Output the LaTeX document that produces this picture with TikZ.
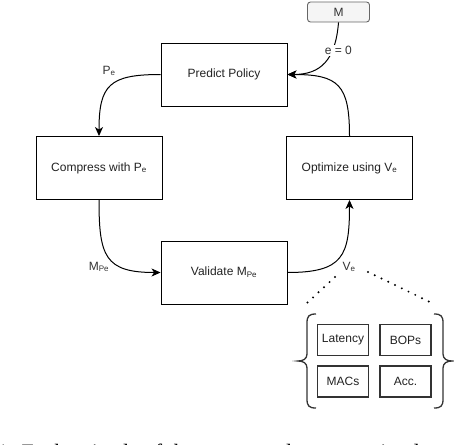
\documentclass[tikz,border=0pt]{standalone}
\usepackage{fontspec}
\setmainfont{Liberation Sans}
\newfontfamily\capfont{Liberation Serif}
\usetikzlibrary{arrows.meta}
\definecolor{txt}{HTML}{222222}
\definecolor{mfill}{HTML}{F5F5F5}
\definecolor{mdraw}{HTML}{666666}
\definecolor{dgray}{HTML}{333333}
\begin{document}
\begin{tikzpicture}[x=1pt,y=-1pt,
  every node/.style={font=\fontsize{12}{14}\selectfont, text=txt},
  stepbox/.style={draw=black, line width=0.9pt, minimum width=126pt, minimum height=63pt, inner sep=0pt},
  metric/.style={draw=dgray, line width=1.4pt, minimum width=51pt, minimum height=31pt, inner sep=0pt},
  inbox/.style={draw=mdraw, fill=mfill, rounded corners=3pt, line width=0.9pt, minimum width=62pt, minimum height=20pt, inner sep=0pt, text=dgray},
  conn/.style={line width=1pt, draw=black, -{Stealth[length=9pt,width=8pt,inset=2.5pt]}},
  lbl/.style={inner sep=1pt, text=dgray},
  dotline/.style={line width=2.2pt, line cap=round, dash pattern=on 0pt off 7.5pt, draw=black},
  bracel/.style={line width=1.3pt, draw=dgray}]
\useasboundingbox (0,0) rectangle (454,444);
\clip (0,0) rectangle (454,444);

% main loop boxes
\node[stepbox] (pp) at (224,74.5) {Predict Policy};
\node[stepbox] (cw) at (99,168) {Compress with P\textsubscript{e}};
\node[stepbox] (ou) at (349.5,168) {Optimize using V\textsubscript{e}};
\node[stepbox] (vm) at (224,272.5) {Validate M\textsubscript{Pe}};

% input model
\node[inbox] (m) at (338.5,12) {M};

% connectors
\draw[conn] (m.south) .. controls +(-3,38) and +(33,0) .. (pp.east)
  node[pos=0.3, xshift=6pt, fill=white, lbl] (e0) {e = 0};
\draw[conn] (pp.west) to[out=180, in=90, looseness=1.5] (cw.north);
\draw[conn] (cw.south) to[out=-90, in=180, looseness=1.5] (vm.west);
\draw[conn] (vm.east) to[out=0, in=-90, looseness=1.5] (ou.south);
\draw[conn] (ou.north) to[out=90, in=0, looseness=1.5] (pp.east);

% edge labels
\node[lbl] (lpe) at (109,71) {P\textsubscript{e}};
\node[lbl] (lmpe) at (99,267) {M\textsubscript{Pe}};
\node[lbl] (lve) at (349,267) {V\textsubscript{e}};

% metric boxes
\node[metric] (lat) at (343,340) {Latency};
\node[metric] (bop) at (405.5,340) {BOPs};
\node[metric] (mac) at (343,381.5) {MACs};
\node[metric] (acc) at (405.5,381.5) {Acc.};

% dotted lines
\coordinate (dl1) at (335,277);
\coordinate (dl2) at (307,303);
\coordinate (dr1) at (368,272);
\coordinate (dr2) at (432,303);
\draw[dotline] (dl1) -- (dl2);
\draw[dotline] (dr1) -- (dr2);

% braces
\draw[bracel] (316,314) .. controls (309,314) and (307,316) .. (307,323) -- (307,354)
  .. controls (307,359) and (303,361) .. (298,361)
  .. controls (303,361) and (307,363) .. (307,368) -- (307,399)
  .. controls (307,406) and (309,408) .. (316,408);
\draw[bracel] (434,314) .. controls (441,314) and (443,316) .. (443,323) -- (443,354)
  .. controls (443,359) and (447,361) .. (452,361)
  .. controls (447,361) and (443,363) .. (443,368) -- (443,399)
  .. controls (443,406) and (441,408) .. (434,408);

% clipped caption (only the tops of its letters show)
\node[anchor=base west, inner sep=0pt, text=black, font=\capfont\fontsize{22}{26}\selectfont] (cap) at (-3,459) {1: Each episode of the automated compression loop};
\end{tikzpicture}
\end{document}
